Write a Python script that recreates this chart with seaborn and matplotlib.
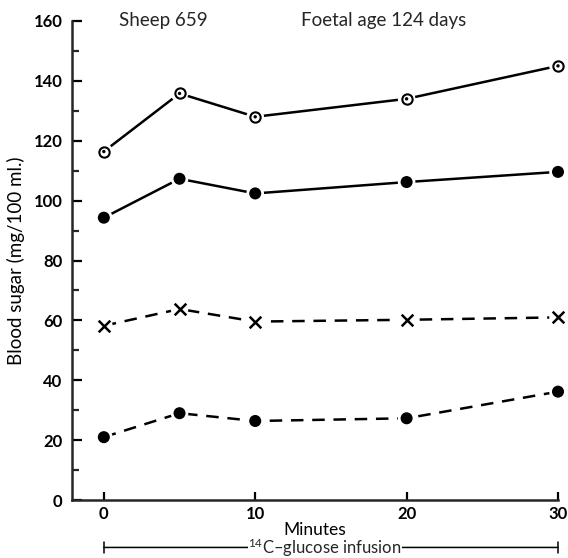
import matplotlib
matplotlib.use("Agg")
import matplotlib.pyplot as plt
import matplotlib.transforms as mtransforms
from matplotlib.ticker import MultipleLocator
import pandas as pd
import seaborn as sns

minutes = [0, 5, 10, 20, 30]
open_solid = [116.4, 135.8, 128.0, 134.0, 145.0]
filled_solid = [94.3, 107.3, 102.4, 106.2, 109.6]
cross_dashed = [58.2, 63.8, 59.6, 60.2, 61.0]
filled_dashed = [21.0, 29.0, 26.4, 27.3, 36.2]

y_ticks = [0, 20, 40, 60, 80, 100, 120, 140, 160]
x_ticks = [0, 10, 20, 30]

sns.set_theme(style="ticks")
plt.rcParams["font.family"] = ["Lato", "DejaVu Sans"]
plt.rcParams["mathtext.fontset"] = "custom"
plt.rcParams["mathtext.rm"] = "Lato"
plt.rcParams["mathtext.it"] = "Lato"

fig = plt.figure(figsize=(5.68, 5.58), dpi=100)
ax = fig.add_axes([0.1268, 0.1039, 0.8556, 0.8585])

series = [
    (open_solid, "solid", "open"),
    (filled_solid, "solid", "filled"),
    (cross_dashed, "dashed", "cross"),
    (filled_dashed, "dashed", "filled"),
]

for values, style, kind in series:
    df = pd.DataFrame({"t": minutes, "v": values})
    ls = "-" if style == "solid" else (0, (5, 3.5))
    sns.lineplot(data=df, x="t", y="v", ax=ax, color="black", lw=1.8,
                 linestyle=ls, zorder=2)
    # white halo gives the small gap between line and marker
    sns.scatterplot(data=df, x="t", y="v", ax=ax, s=160, color="white",
                    edgecolor="none", zorder=3, clip_on=False)
    if kind == "filled":
        sns.scatterplot(data=df, x="t", y="v", ax=ax, s=75, color="black",
                        edgecolor="none", zorder=4, clip_on=False)
    elif kind == "open":
        sns.scatterplot(data=df, x="t", y="v", ax=ax, s=55, color="white",
                        edgecolor="black", linewidth=1.5, zorder=4, clip_on=False)
        sns.scatterplot(data=df, x="t", y="v", ax=ax, s=6, color="black",
                        edgecolor="none", zorder=5, clip_on=False)
    else:
        sns.scatterplot(data=df, x="t", y="v", ax=ax, s=70, marker="x",
                        color="black", linewidth=1.8, zorder=4, clip_on=False)

ax.set_xlim(-2.1, 30)
ax.set_ylim(0, 160)
ax.set_xticks(x_ticks)
ax.set_yticks(y_ticks)
ax.yaxis.set_minor_locator(MultipleLocator(10))
ax.tick_params(axis="both", which="major", direction="in", width=1.6,
               labelsize=12, colors="black")
ax.tick_params(axis="y", which="major", length=7, pad=7)
ax.tick_params(axis="y", which="minor", direction="in", length=5, width=1.6)
ax.tick_params(axis="x", which="major", length=6, pad=4)
for lab in ax.get_xticklabels() + ax.get_yticklabels():
    lab.set_fontweight("bold")

sns.despine(ax=ax)
ax.spines["left"].set_linewidth(1.8)
ax.spines["bottom"].set_linewidth(1.8)

ax.set_xlabel("Minutes", fontsize=12.5, labelpad=0, color="black")
ax.set_ylabel("Blood sugar (mg/100 ml.)", fontsize=13.5, labelpad=6, color="black")

ax.text(3.9, 160, "Sheep 659", fontsize=13.5, ha="center", va="center")
ax.text(18.5, 160, "Foetal age 124 days", fontsize=13.5, ha="center", va="center")

trans = mtransforms.blended_transform_factory(ax.transData, ax.transAxes)
ax.annotate("", xy=(0, -0.099), xytext=(30, -0.099), xycoords=trans,
            textcoords=trans, annotation_clip=False,
            arrowprops=dict(arrowstyle="|-|, widthA=0.35, widthB=0.35",
                            lw=1.1, color="black", shrinkA=0, shrinkB=0))
ax.text(14.6, -0.099, "$^{14}$C–glucose infusion", transform=trans,
        fontsize=12, ha="center", va="center",
        bbox=dict(facecolor="white", edgecolor="none", pad=0.2))

fig.savefig("out.png", dpi=100)
